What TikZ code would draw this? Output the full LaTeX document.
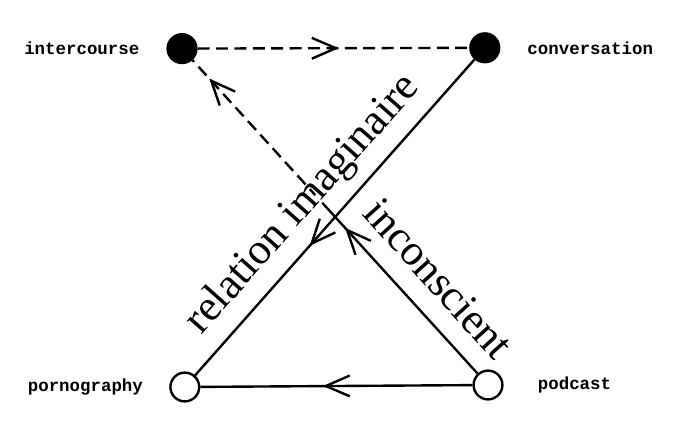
\documentclass[tikz,border=0pt]{standalone}
\usepackage{fontspec}
\setmainfont{Liberation Serif}
\setmonofont{Liberation Mono}
\usetikzlibrary{positioning,arrows.meta,decorations.markings}

\begin{document}
\begin{tikzpicture}[
    x=1cm,
    y=1cm,
    ponto/.style={circle, draw=black, line width=1.7pt, minimum size=0.72cm, inner sep=0pt},
    cheio/.style={ponto, fill=black},
    vazio/.style={ponto, fill=white},
    rotulo/.style={font=\ttfamily\bfseries\fontsize{12.4}{14}\selectfont, inner sep=0pt},
    frase/.style={font=\fontsize{31}{36}\selectfont, inner sep=0pt, anchor=base},
    farpa/.tip={Straight Barb[length=0.6cm, width=0.52cm]},
    traco/.style={line width=1.7pt},
    tracejado/.style={traco, dash pattern=on 0.3cm off 0.16cm},
    setameio/.style={postaction={decorate},
        decoration={markings, mark=at position #1 with {\arrow{farpa}}}}
]

% Moldura:
% fixa as margens da figura.
\useasboundingbox (0,0) rectangle (17.325,11.075);

% Os quatro pontos do esquema:
% cheios em cima, vazados embaixo.
\node[cheio] (intercourse) at (4.55,9.86) {};
\node[cheio] (conversation) at (12.12,9.88) {};
\node[vazio] (pornography) at (4.62,1.40) {};
\node[vazio] (podcast) at (12.20,1.45) {};

% Nomes dos pontos:
% fora do esquema, à esquerda e à direita.
\node[rotulo, left=0.67cm of intercourse] (nomeIntercourse) {intercourse};
\node[rotulo, right=0.67cm of conversation] (nomeConversation) {conversation};
\node[rotulo, left=0.65cm of pornography] (nomePornography) {pornography};
\node[rotulo, right=0.85cm of podcast] (nomePodcast) {podcast};

% Ligações com seta no meio.
\draw[tracejado, setameio=0.52] (intercourse) -- (conversation);
\draw[traco, setameio=0.55] (podcast) -- (pornography);
\draw[traco, setameio=0.59] (conversation) -- (pornography);

% Diagonal de podcast:
% cheia até o cruzamento, tracejada depois.
\path (podcast) -- (intercourse) coordinate[pos=0.56] (quebra);
\draw[traco, setameio=0.83] (podcast) -- (quebra);
\draw[tracejado, setameio=0.87] (quebra) -- (intercourse);

% Frases ao longo das diagonais:
% a de cima tapa o trecho da diagonal que passa por baixo dela.
\node[frase, fill=white, text height=0.55em, text depth=0.15em, rotate=48.5]
    (imaginaria) at (7.775,5.775) {relation imaginaire};
\node[frase, rotate=-47.8] (inconsciente) at (10.70,3.875) {inconscient};

\end{tikzpicture}
\end{document}
